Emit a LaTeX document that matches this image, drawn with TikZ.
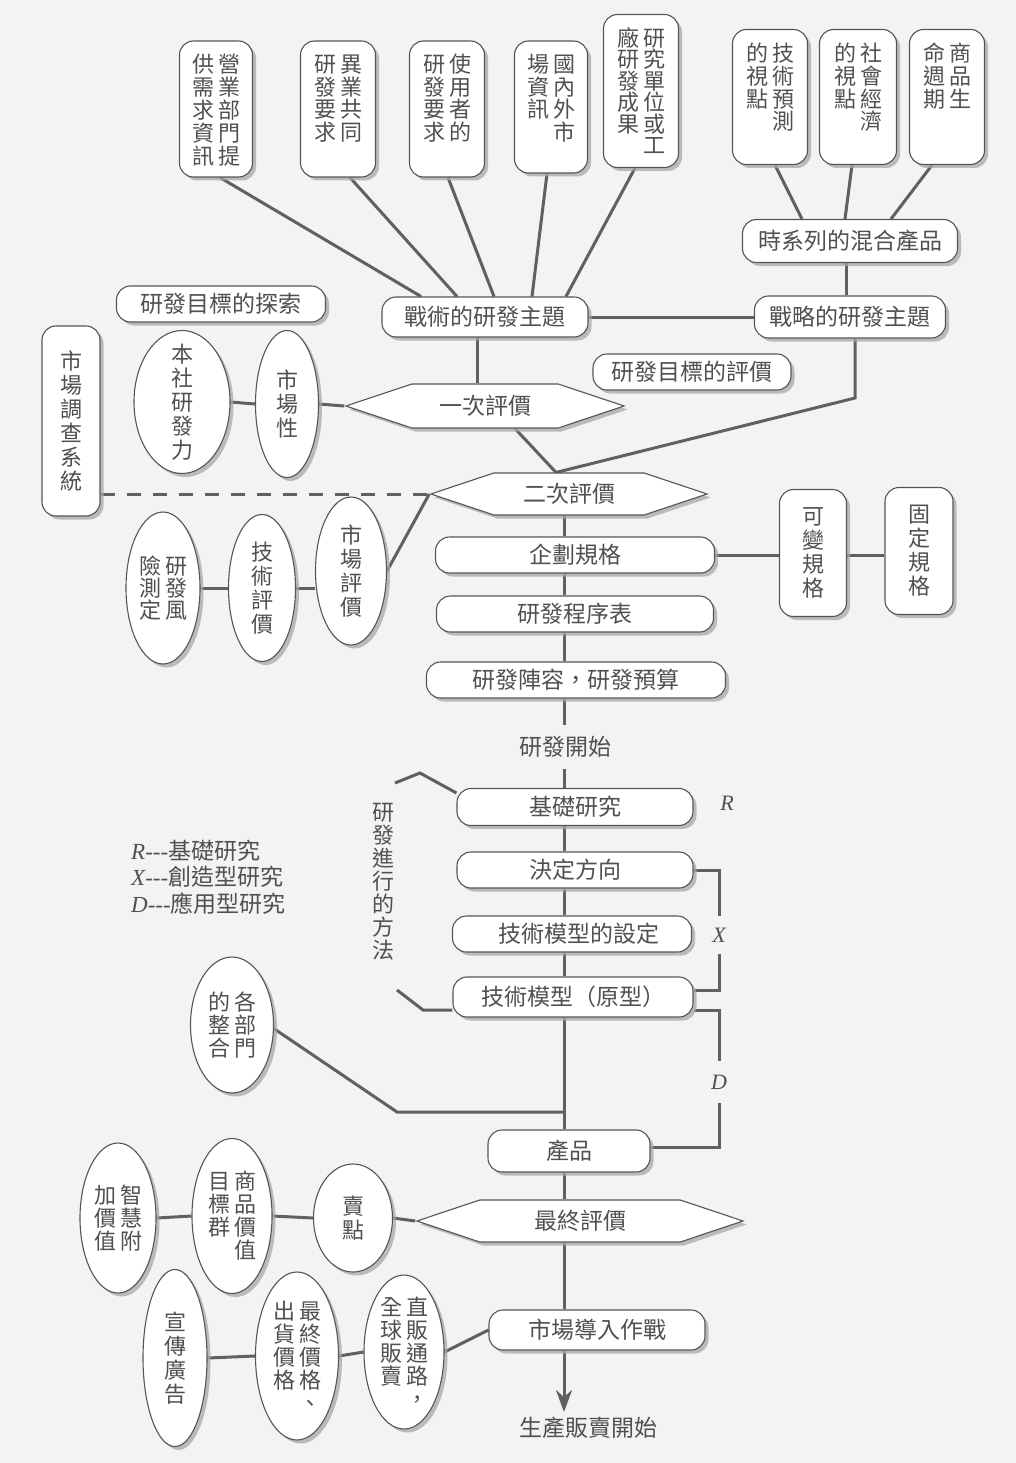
\documentclass[tikz,border=0pt]{standalone}
\usepackage{fontspec}
\setmainfont{Noto Sans CJK TC}
\newfontfamily\lserif{Liberation Serif}
\usetikzlibrary{shapes.geometric,shapes.symbols,shadows,backgrounds,arrows.meta}
\definecolor{ink}{HTML}{505050}
\definecolor{edge}{HTML}{555555}
\definecolor{wire}{HTML}{606060}
\definecolor{paper}{HTML}{F3F3F3}
\definecolor{shade}{HTML}{A8A8A8}
\makeatletter
\def\vch@loop#1{\ifx#1\relax\else\hbox to 22pt{\hss#1\hss}\expandafter\vch@loop\fi}
\newcommand\vcolumn[2]{\vtop{\baselineskip=#1\lineskiplimit=-1000pt\lineskip=0pt\vch@loop#2\relax}}
\makeatother
% \vone[pitch]{chars}: one vertical column; \vtwo[pitch]{left column}{right column}
\newcommand\vone[2][23pt]{{\fontsize{22}{#1}\selectfont\vcolumn{#1}{#2}}}
\newcommand\vtwo[3][23pt]{{\fontsize{22}{#1}\selectfont\hbox{\vcolumn{#1}{#2}\hspace{4pt}\vcolumn{#1}{#3}}}}
\tikzset{
  x=1pt, y=-1pt,
  every node/.style={font=\fontsize{23}{24}\selectfont, text=ink},
  sh/.style={drop shadow={shadow xshift=3.5pt, shadow yshift=-3.5pt, fill=shade, opacity=0.75}},
  rbox/.style={sh, draw=edge, line width=1.1pt, fill=white, rounded corners=14pt, inner sep=0pt},
  tbox/.style={rbox, inner xsep=0pt, inner ysep=8pt, text height=24pt},
  elli/.style={sh, ellipse, draw=edge, line width=1.1pt, fill=white, inner sep=-40pt},
  hexa/.style={sh, signal, signal to=west and east, signal pointer angle=37, draw=edge, line width=1.1pt, fill=white, inner sep=0pt},
  wire/.style={draw=wire, line width=3pt},
  dashwire/.style={wire, dash pattern=on 14pt off 12pt},
  plain/.style={inner sep=0pt},
  letter/.style={font=\fontsize{22}{24}\lserif\itshape, inner sep=8pt}
}
\begin{document}
\begin{tikzpicture}
\useasboundingbox (0,0) rectangle (1016,1463);

% ---------- top boxes ----------
\node[tbox, minimum width=73, minimum height=136, text depth=96] (b1) at (216,109) {\vtwo[22.8pt]{供需求資訊}{營業部門提}};
\node[tbox, minimum width=75, minimum height=136, text depth=96] (b2) at (338,109) {\vtwo[22.5pt]{研發要求}{異業共同}};
\node[tbox, minimum width=75, minimum height=136, text depth=96] (b3) at (447,109) {\vtwo[22.5pt]{研發要求}{使用者的}};
\node[tbox, minimum width=73, minimum height=132, text depth=92] (b4) at (551,107) {\vtwo[22.5pt]{場資訊}{國內外市}};
\node[tbox, minimum width=75, minimum height=153, text depth=113] (b5) at (641,91) {\vtwo[21.5pt]{廠研發成果}{研究單位或工}};
\node[tbox, minimum width=75, minimum height=135, text depth=95] (b6) at (770,97) {\vtwo[22.8pt]{的視點}{技術預測}};
\node[tbox, minimum width=77, minimum height=135, text depth=95] (b7) at (858,97) {\vtwo[22.8pt]{的視點}{社會經濟}};
\node[tbox, minimum width=75, minimum height=135, text depth=95] (b8) at (947,97) {\vtwo[22.8pt]{命週期}{商品生}};

% ---------- horizontal boxes ----------
\node[rbox, minimum width=215, minimum height=43] (mix) at (850,241) {時系列的混合產品};
\node[rbox, minimum width=206, minimum height=40] (tt) at (485,317) {戰術的研發主題};
\node[rbox, minimum width=191, minimum height=42] (sl) at (850,317) {戰略的研發主題};
\node[rbox, minimum width=209, minimum height=36] (explore) at (221,304) {研發目標的探索};
\node[rbox, minimum width=198, minimum height=36] (goal) at (692,372) {研發目標的評價};
\node[rbox, minimum width=279, minimum height=36] (kikaku) at (575,555) {企劃規格};
\node[rbox, minimum width=277, minimum height=36] (prog) at (575,614) {研發程序表};
\node[rbox, minimum width=299, minimum height=36] (team) at (576,680) {研發陣容，研發預算};
\node[rbox, minimum width=236, minimum height=37] (kiso) at (575,807) {基礎研究};
\node[rbox, minimum width=236, minimum height=36] (kettei) at (575,870) {決定方向};
\node[rbox, minimum width=239, minimum height=36] (settei) at (572,934) {\hspace{14pt}技術模型的設定};
\node[rbox, minimum width=240, minimum height=40] (genkei) at (573,997) {技術模型（原型）};
\node[rbox, minimum width=162, minimum height=42] (prod) at (569,1151) {產品};
\node[rbox, minimum width=216, minimum height=40] (intro) at (597,1330) {市場導入作戰};

% ---------- vertical boxes ----------
\node[rbox, minimum width=58, minimum height=190] (mrs) at (71,421) {\vone[24pt]{市場調查系統}};
\node[rbox, minimum width=67, minimum height=127] (var) at (813,553) {\vone[24pt]{可變規格}};
\node[rbox, minimum width=68, minimum height=127] (fix) at (919,551) {\vone[24pt]{固定規格}};

% ---------- hexagons ----------
\node[hexa, minimum width=278, minimum height=44] (h1) at (485,406) {一次評價};
\node[hexa, minimum width=276, minimum height=42] (h2) at (569,494) {二次評價};
\node[hexa, minimum width=326, minimum height=42] (h3) at (580,1221) {最終評價};

% ---------- ellipses ----------
\node[elli, minimum width=96, minimum height=143] (e1) at (182,402) {\vone[24pt]{本社研發力}};
\node[elli, minimum width=63, minimum height=147] (e2) at (287,404) {\vone[24pt]{市場性}};
\node[elli, minimum width=74, minimum height=152] (e3) at (163,588) {\vtwo[22pt]{險測定}{研發風}};
\node[elli, minimum width=67, minimum height=147] (e4) at (262,588) {\vone[24pt]{技術評價}};
\node[elli, minimum width=71, minimum height=148] (e5) at (351,571) {\vone[24pt]{市場評價}};
\node[elli, minimum width=83, minimum height=136] (e6) at (232,1025) {\vtwo[23pt]{的整合}{各部門}};
\node[elli, minimum width=76, minimum height=150] (e7) at (118,1218) {\vtwo[23pt]{加價值}{智慧附}};
\node[elli, minimum width=80, minimum height=155] (e8) at (232,1216) {\vtwo[23pt]{目標群}{商品價值}};
\node[elli, minimum width=79, minimum height=108] (e9) at (353,1218) {\vone[24pt]{賣點}};
\node[elli, minimum width=64, minimum height=177] (e10) at (175,1358) {\vone[24pt]{宣傳廣告}};
\node[elli, minimum width=83, minimum height=168] (e11) at (297,1356) {\vtwo[23pt]{出貨價格}{最終價格、}};
\node[elli, minimum width=80, minimum height=154] (e12) at (404,1352) {\vtwo[23pt]{全球販賣}{直販通路，}};

% ---------- plain texts ----------
\node[inner xsep=0pt, inner ysep=11pt] (start) at (565,747) {研發開始};
\node[inner xsep=0pt, inner ysep=5pt] (final) at (588,1428) {生產販賣開始};
\node[plain] (method) at (383,882) {\vone[23pt]{研發進行的方法}};
\node[plain, anchor=west] (legend) at (131,880) {\begin{tabular}{@{}l@{}}{\lserif\itshape R}{\lserif -{}-{}-}基礎研究\\{\lserif\itshape X}{\lserif -{}-{}-}創造型研究\\{\lserif\itshape D}{\lserif -{}-{}-}應用型研究\end{tabular}};
\node[letter] (rl) at (727,803) {R};
\node[letter, inner ysep=12pt] (xl) at (719,935) {X};
\node[letter, inner ysep=14pt] (dl) at (719,1082) {D};

% ---------- connectors ----------
\begin{pgfonlayer}{background}
\fill[paper] (0,0) rectangle (1016,1463);
\draw[wire] (220,0 |- b1.south) -- (421,0 |- tt.north);
\draw[wire] (350,0 |- b2.south) -- (457,0 |- tt.north);
\draw[wire] (448,0 |- b3.south) -- (494,0 |- tt.north);
\draw[wire] (547,0 |- b4.south) -- (532,0 |- tt.north);
\draw[wire] (635,0 |- b5.south) -- (566,0 |- tt.north);
\draw[wire] (775,0 |- b6.south) -- (802,0 |- mix.north);
\draw[wire] (852,0 |- b7.south) -- (845,0 |- mix.north);
\draw[wire] (932,0 |- b8.south) -- (891,0 |- mix.north);
\draw[wire] (846,0 |- mix.south) -- (846,0 |- sl.north);
\draw[wire] (tt.east) -- (sl.west);
\draw[wire] (477,0 |- tt.south) -- (477,0 |- h1.north);
\coordinate (j2) at (556,0 |- h2.north);
\draw[wire] (855,0 |- sl.south) -- (855,398) -- (j2);
\draw[wire] (515,0 |- h1.south) -- (j2);
\draw[wire] (e1.east) -- (e2.west);
\draw[wire] (e2.east) -- (h1.west);
\draw[dashwire] (mrs.east |- h2.west) -- (h2.west);
\draw[wire] (e3.east) -- (e4.west);
\draw[wire] (e4.east) -- (e5.west |- e4.east);
\draw[wire] (e5.east) -- (h2.west);
\draw[wire] (kikaku.east) -- (var.west |- kikaku.east);
\draw[wire] (var.east |- kikaku.east) -- (fix.west |- kikaku.east);
\foreach \a/\b in {h2/kikaku, kikaku/prog, prog/team, team/start, start/kiso, kiso/kettei, kettei/settei, settei/genkei, genkei/prod, prod/h3, h3/intro}
  \draw[wire] (564,0 |- \a.south) -- (564,0 |- \b.north);
\draw[wire, -{Stealth[length=22pt, width=16pt]}] (564,0 |- intro.south) -- (564,0 |- final.north);
\draw[wire] (kettei.east) -| (xl.north);
\draw[wire] (xl.south) |- ([yshift=7pt]genkei.east);
\draw[wire] ([yshift=-13pt]genkei.east) -| (dl.north);
\draw[wire] (dl.south) |- ([yshift=4pt]prod.east);
\draw[wire] (395,783) -- (420,773) -- ([yshift=14pt]kiso.west);
\draw[wire] (397,990) -- (423,1010) -- ([yshift=-13pt]genkei.west);
\draw[wire] (e6.-5) -- (397,1112) -- (564,1112);
\draw[wire] (e7.east) -- (e8.west);
\draw[wire] (e8.east) -- (e9.west);
\draw[wire] (e9.east) -- (h3.west);
\draw[wire] (e10.east) -- (e11.west);
\draw[wire] (e11.east) -- (e12.west);
\draw[wire] (e12.east) -- (intro.west);
\end{pgfonlayer}
\end{tikzpicture}
\end{document}
